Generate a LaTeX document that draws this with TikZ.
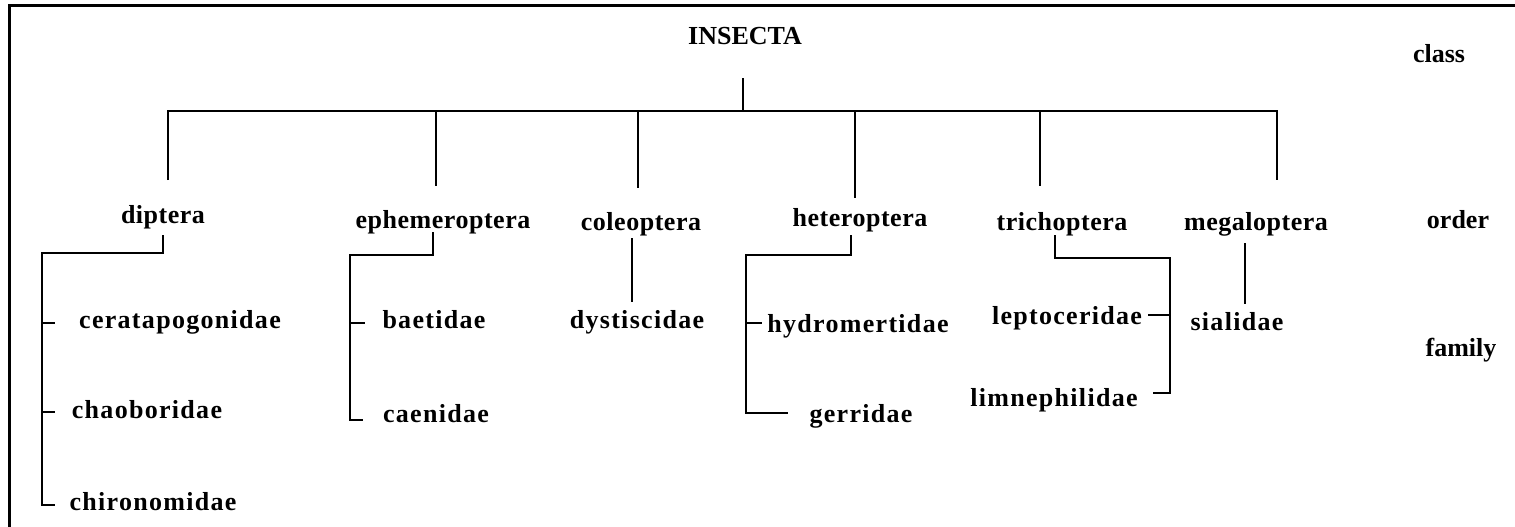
\documentclass[tikz,border=0pt]{standalone}
\usepackage{fontspec}
\setmainfont{Liberation Serif}
\newfontfamily\ordfont[LetterSpace=2]{Liberation Serif}
\newfontfamily\famfont[LetterSpace=5]{Liberation Serif}
\begin{document}
\begin{tikzpicture}[x=1pt,y=-1pt]
\tikzset{
  lbl/.style={inner sep=0pt, anchor=base, font=\fontsize{26}{30}\selectfont\bfseries},
  ord/.style={inner sep=0pt, anchor=base, font=\fontsize{26}{30}\selectfont\ordfont\bfseries},
  fam/.style={inner sep=0pt, anchor=base, font=\fontsize{26}{30}\selectfont\famfont\bfseries},
  tree/.style={line width=1.6pt, line cap=butt, line join=miter},
  frame/.style={line width=3pt}
}
\useasboundingbox (0,0) rectangle (1515,527);
\fill[white] (0,0) rectangle (1515,527);
\draw[frame] (9,527) -- (9,6) -- (1515,6);

% labels
\node[lbl] (insecta) at (745,45) {INSECTA};
\node[lbl] (class) at (1439,63) {class};
\node[ord] (dip) at (163,223) {diptera};
\node[ord] (eph) at (443,228) {ephemeroptera};
\node[ord] (col) at (641,230) {coleoptera};
\node[ord] (het) at (860,226) {heteroptera};
\node[ord] (tri) at (1062,230) {trichoptera};
\node[ord] (meg) at (1256,230) {megaloptera};
\node[lbl] (order) at (1458,228) {order};
\node[lbl] (family) at (1461,356) {family};

\node[fam] (cer) at (180,328) {ceratapogonidae};
\node[fam] (cha) at (147,418) {chaoboridae};
\node[fam] (chi) at (153,510) {chironomidae};
\node[fam] (bae) at (434,328) {baetidae};
\node[fam] (cae) at (436,422) {caenidae};
\node[fam] (dys) at (637,328) {dystiscidae};
\node[fam] (hyd) at (858,332) {hydromertidae};
\node[fam] (ger) at (861,422) {gerridae};
\node[fam] (lep) at (1067,324) {leptoceridae};
\node[fam] (lim) at (1054,406) {limnephilidae};
\node[fam] (sia) at (1237,330) {sialidae};

% class -> orders
\coordinate (root) at (743,78);
\coordinate (bar) at (743,111);
\coordinate (o1) at (168,180);
\coordinate (o2) at (436,186);
\coordinate (o3) at (638,188);
\coordinate (o4) at (855,198);
\coordinate (o5) at (1040,186);
\coordinate (o6) at (1277,180);
\draw[tree] (root) -- (bar);
\draw[tree] (o1) |- (bar) -| (o6);
\foreach \o in {o2,o3,o4,o5} \draw[tree] (\o |- bar) -- (\o);

% diptera
\coordinate (dtop) at (163,235);
\coordinate (dL) at (42,253);
\coordinate (dB) at (55,505);
\coordinate (dt1) at (55,323);
\coordinate (dt2) at (55,412);
\draw[tree] (dtop) |- (dL) |- (dB);
\draw[tree] (dt1 -| dL) -- (dt1);
\draw[tree] (dt2 -| dL) -- (dt2);

% ephemeroptera
\coordinate (etop) at (433,232);
\coordinate (eL) at (350,255);
\coordinate (eB) at (363,420);
\coordinate (et1) at (365,323);
\draw[tree] (etop) |- (eL) |- (eB);
\draw[tree] (et1 -| eL) -- (et1);

% coleoptera
\coordinate (ctop) at (632,238);
\coordinate (cbot) at (632,302);
\draw[tree] (ctop) -- (cbot);

% heteroptera
\coordinate (htop) at (851,235);
\coordinate (hL) at (746,255);
\coordinate (hB) at (788,413);
\coordinate (ht1) at (762,323);
\draw[tree] (htop) |- (hL) |- (hB);
\draw[tree] (ht1 -| hL) -- (ht1);

% trichoptera
\coordinate (ttop) at (1055,235);
\coordinate (tR) at (1170,258);
\coordinate (tB) at (1153,393);
\coordinate (tt1) at (1148,315);
\draw[tree] (ttop) |- (tR) |- (tB);
\draw[tree] (tt1 -| tR) -- (tt1);

% megaloptera
\coordinate (mtop) at (1245,243);
\coordinate (mbot) at (1245,304);
\draw[tree] (mtop) -- (mbot);
\end{tikzpicture}
\end{document}
